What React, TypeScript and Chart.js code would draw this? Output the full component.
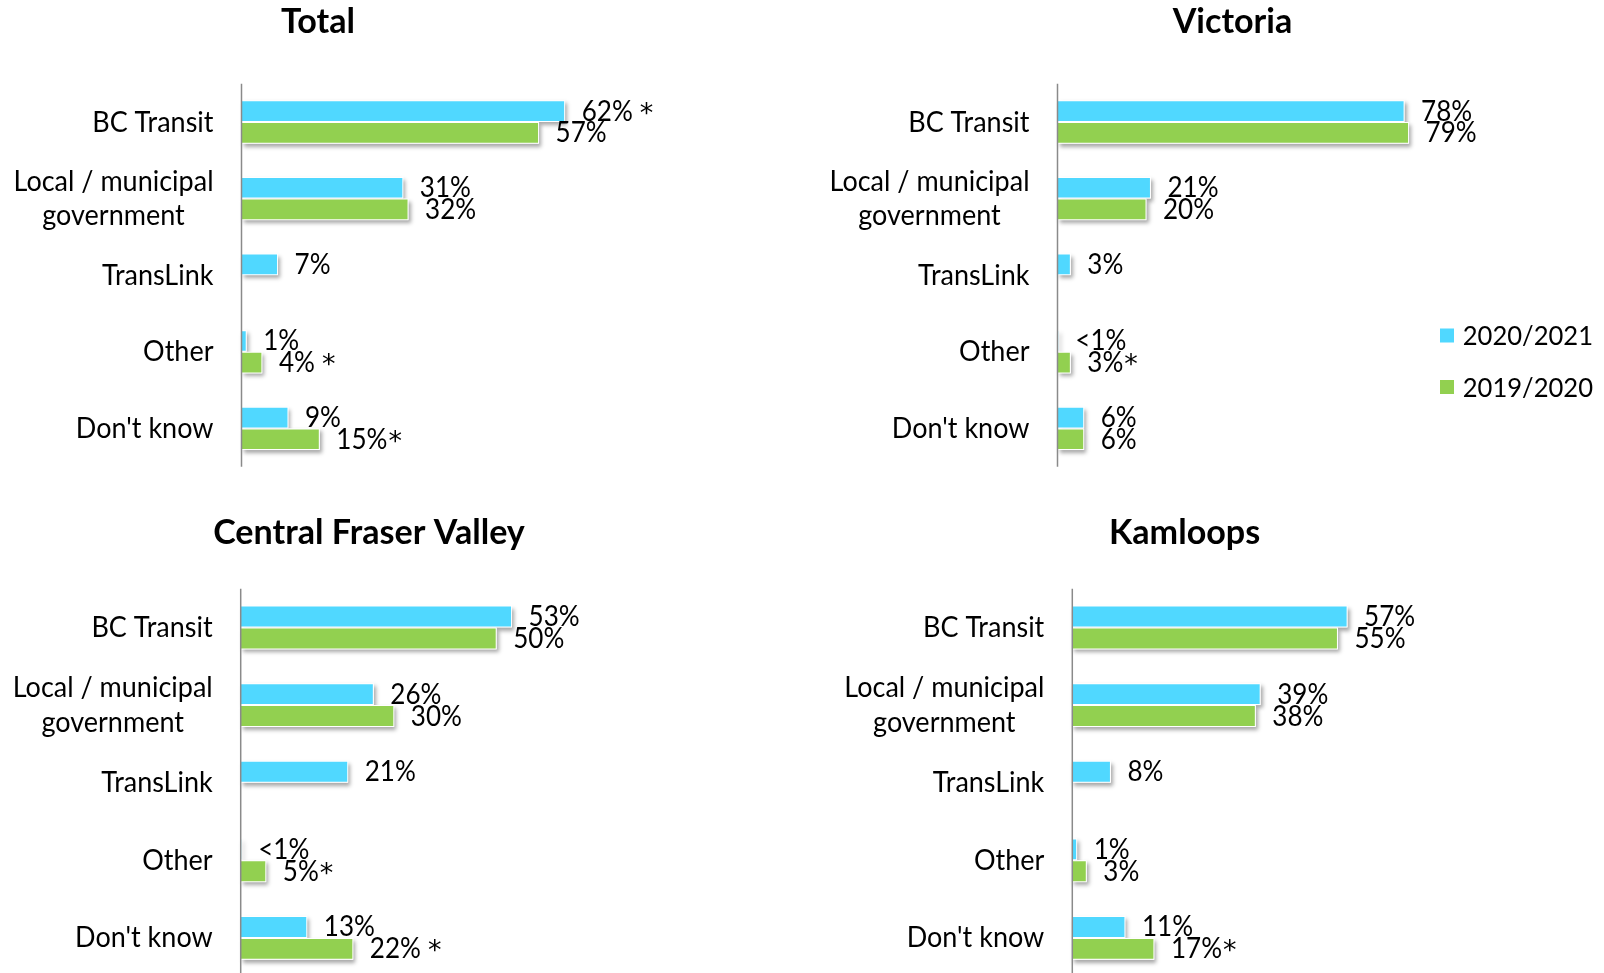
import React, { useEffect, useRef } from 'react';
import { Chart, registerables } from 'chart.js';
Chart.register(...registerables);

// ---------- DATA ----------
const categories: string[][] = [['BC Transit'], ['Local / municipal', 'government'], ['TransLink'], ['Other'], ["Don't know"]];
const seriesNames = ['2020/2021', '2019/2020'];
const panelTitles = ['Total', 'Victoria', 'Central Fraser Valley', 'Kamloops'];

const totalCurrent = [62, 31, 7, 1, 9];
const totalPrevious = [57, 32, null, 4, 15];
const totalCurrentLabels = ['62% *', '31%', '7%', '1%', '9%'];
const totalPreviousLabels = ['57%', '32%', '', '4% *', '15%*'];

const victoriaCurrent = [78, 21, 3, 0.3, 6];
const victoriaPrevious = [79, 20, null, 3, 6];
const victoriaCurrentLabels = ['78%', '21%', '3%', '<1%', '6%'];
const victoriaPreviousLabels = ['79%', '20%', '', '3%*', '6%'];

const cfvCurrent = [53, 26, 21, 0.2, 13];
const cfvPrevious = [50, 30, null, 5, 22];
const cfvCurrentLabels = ['53%', '26%', '21%', '<1%', '13%'];
const cfvPreviousLabels = ['50%', '30%', '', '5%*', '22% *'];

const kamloopsCurrent = [57, 39, 8, 1, 11];
const kamloopsPrevious = [55, 38, null, 3, 17];
const kamloopsCurrentLabels = ['57%', '39%', '8%', '1%', '11%'];
const kamloopsPreviousLabels = ['55%', '38%', '', '3%', '17%*'];

// ---------- STYLE / LAYOUT ----------
const BLUE = '#50D8FF';
const GREEN = '#92D050';
const FONT = 'Lato';

type Layout = {
  left: number; top: number; w: number; h: number;
  axisX: number; areaTop: number; areaBottom: number; pxPerPct: number;
  titleX: number; titleBaseline: number; legend?: boolean;
};

const layouts: Layout[] = [
  { left: 0, top: 0, w: 800, h: 490, axisX: 241.5, areaTop: 83.7, areaBottom: 466.7, pxPerPct: 5.22, titleX: 318, titleBaseline: 32.5 },
  { left: 800, top: 0, w: 804, h: 490, axisX: 1057.5, areaTop: 83.7, areaBottom: 466.7, pxPerPct: 4.45, titleX: 1232.5, titleBaseline: 32.5, legend: true },
  { left: 0, top: 490, w: 800, h: 490, axisX: 240.7, areaTop: 588.7, areaBottom: 976.7, pxPerPct: 5.12, titleX: 369, titleBaseline: 544.3 },
  { left: 800, top: 490, w: 804, h: 490, axisX: 1072.3, areaTop: 588.7, areaBottom: 976.7, pxPerPct: 4.83, titleX: 1184.6, titleBaseline: 544.3 },
];

const panelData = [
  { cur: totalCurrent, prev: totalPrevious, curL: totalCurrentLabels, prevL: totalPreviousLabels },
  { cur: victoriaCurrent, prev: victoriaPrevious, curL: victoriaCurrentLabels, prevL: victoriaPreviousLabels },
  { cur: cfvCurrent, prev: cfvPrevious, curL: cfvCurrentLabels, prevL: cfvPreviousLabels },
  { cur: kamloopsCurrent, prev: kamloopsPrevious, curL: kamloopsCurrentLabels, prevL: kamloopsPreviousLabels },
];

let sxNormal = 1;
let sxBold = 1;
function calibrate(ctx: CanvasRenderingContext2D) {
  ctx.save();
  ctx.font = `29px ${FONT}`;
  sxNormal = 200 / ctx.measureText('Local / municipal').width;
  ctx.font = `bold 34px ${FONT}`;
  sxBold = 311.7 / ctx.measureText('Central Fraser Valley').width;
  ctx.restore();
}

function drawText(ctx: CanvasRenderingContext2D, text: string, x: number, y: number, align: CanvasTextAlign, font: string, bold = false) {
  ctx.save();
  ctx.font = font;
  ctx.fillStyle = '#000000';
  ctx.textAlign = align;
  ctx.textBaseline = 'alphabetic';
  ctx.translate(x, y);
  ctx.scale(bold ? sxBold : sxNormal, 1);
  ctx.fillText(text, 0, 0);
  ctx.restore();
}
function textWidth(ctx: CanvasRenderingContext2D, text: string, font: string) {
  ctx.save();
  ctx.font = font;
  const w = ctx.measureText(text).width * sxNormal;
  ctx.restore();
  return w;
}

// value label: number part in main font, asterisk in a larger glyph
function drawValueLabel(ctx: CanvasRenderingContext2D, lbl: string, x: number, y: number) {
  const font = `28px ${FONT}`;
  const m = lbl.match(/^(.*?)(\s*)\*$/);
  if (!m) {
    drawText(ctx, lbl, x, y, 'left', font);
    return;
  }
  drawText(ctx, m[1], x, y, 'left', font);
  let ax = x + textWidth(ctx, m[1], font) + (m[2].length ? 7 : 1);
  ctx.save();
  ctx.font = `27px "DejaVu Sans"`;
  ctx.fillStyle = '#000000';
  ctx.textAlign = 'left';
  ctx.textBaseline = 'alphabetic';
  ctx.fillText('*', ax, y + 1);
  ctx.restore();
}

function makePlugin(lay: Layout, title: string, labelSets: string[][]) {
  return {
    id: 'panelDeco',
    beforeDatasetsDraw(chart: any) {
      const ctx: CanvasRenderingContext2D = chart.ctx;
      ctx.save();
      ctx.shadowColor = 'rgba(0,0,0,0.35)';
      ctx.shadowBlur = 4;
      ctx.shadowOffsetX = 2;
      ctx.shadowOffsetY = 3;
      ctx.fillStyle = '#ffffff';
      chart.data.datasets.forEach((ds: any, i: number) => {
        chart.getDatasetMeta(i).data.forEach((el: any, j: number) => {
          if (ds.data[j] == null) return;
          const p = el.getProps(['x', 'y', 'base', 'height'], true);
          ctx.fillRect(p.base, p.y - p.height / 2, p.x - p.base, p.height);
        });
      });
      ctx.restore();
    },
    afterDatasetsDraw(chart: any) {
      const ctx: CanvasRenderingContext2D = chart.ctx;
      const xs = chart.scales.x;
      const ys = chart.scales.y;
      const area = chart.chartArea;
      // axis line
      const ax = xs.getPixelForValue(0);
      ctx.save();
      ctx.strokeStyle = '#8a8a8a';
      ctx.lineWidth = 1.5;
      ctx.beginPath();
      ctx.moveTo(ax, area.top);
      ctx.lineTo(ax, area.bottom);
      ctx.stroke();
      ctx.restore();
      // value labels
      chart.data.datasets.forEach((ds: any, i: number) => {
        chart.getDatasetMeta(i).data.forEach((el: any, j: number) => {
          const lbl = labelSets[i][j];
          if (!lbl || ds.data[j] == null) return;
          const p = el.getProps(['x', 'y'], true);
          drawValueLabel(ctx, lbl, p.x + 16.5, p.y + 9.5);
        });
      });
      // category labels
      const catFont = `29px ${FONT}`;
      (chart.data.labels as string[][]).forEach((lines, i) => {
        const yc = ys.getPixelForValue(i);
        const lh = 34.5;
        const bw = Math.max(...lines.map((l) => textWidth(ctx, l, catFont)));
        const cx = ax - 28 - bw / 2;
        const first = yc + 9.5 - ((lines.length - 1) * lh) / 2;
        lines.forEach((l, k) => drawText(ctx, l, cx, first + k * lh, 'center', catFont));
      });
      // title
      drawText(ctx, title, lay.titleX - lay.left, lay.titleBaseline - lay.top, 'center', `bold 34px ${FONT}`, true);
      // legend
      if (lay.legend) {
        const items = [
          { name: seriesNames[0], color: BLUE, y: 335.5 },
          { name: seriesNames[1], color: GREEN, y: 387 },
        ];
        items.forEach((it) => {
          ctx.save();
          ctx.fillStyle = it.color;
          ctx.fillRect(1440 - lay.left, it.y - 7 - lay.top, 14, 14);
          ctx.restore();
          drawText(ctx, it.name, 1462.7 - lay.left, it.y + 9.5 - lay.top, 'left', `27.5px ${FONT}`);
        });
      }
    },
  };
}

export default function App() {
  const refs = [useRef<HTMLCanvasElement>(null), useRef<HTMLCanvasElement>(null), useRef<HTMLCanvasElement>(null), useRef<HTMLCanvasElement>(null)];

  useEffect(() => {
    const charts: Chart[] = [];
    layouts.forEach((lay, idx) => {
      const canvas = refs[idx].current;
      if (!canvas) return;
      const ctx = canvas.getContext('2d')!;
      calibrate(ctx);
      const d = panelData[idx];
      const padLeft = lay.axisX - lay.left;
      const padTop = lay.areaTop - lay.top;
      const padBottom = lay.h - (lay.areaBottom - lay.top);
      const padRight = lay.w - padLeft - 100 * lay.pxPerPct;
      const chart = new Chart(ctx, {
        type: 'bar',
        data: {
          labels: categories,
          datasets: [
            { label: seriesNames[0], data: d.cur, backgroundColor: BLUE, borderColor: '#ffffff', borderWidth: 1 },
            { label: seriesNames[1], data: d.prev, backgroundColor: GREEN, borderColor: '#ffffff', borderWidth: 1 },
          ],
        },
        options: {
          indexAxis: 'y',
          responsive: false,
          animation: false,
          devicePixelRatio: 1,
          layout: { padding: { left: padLeft, right: padRight, top: padTop, bottom: padBottom } },
          datasets: { bar: { categoryPercentage: 0.565, barPercentage: 1 } },
          scales: {
            x: { display: false, min: 0, max: 100 },
            y: { display: false, offset: true },
          },
          plugins: { legend: { display: false }, tooltip: { enabled: false }, title: { display: false } },
        },
        plugins: [makePlugin(lay, panelTitles[idx], [d.curL, d.prevL])],
      } as any);
      charts.push(chart);
    });
    return () => charts.forEach((c) => c.destroy());
  }, []);

  return (
    <div style={{ position: 'fixed', left: 0, top: 0, width: 1604, height: 973, overflow: 'hidden', background: '#ffffff' }}>
      {layouts.map((lay, i) => (
        <canvas
          key={i}
          ref={refs[i]}
          width={lay.w}
          height={lay.h}
          style={{ position: 'absolute', left: lay.left, top: lay.top, width: lay.w, height: lay.h }}
        />
      ))}
    </div>
  );
}
